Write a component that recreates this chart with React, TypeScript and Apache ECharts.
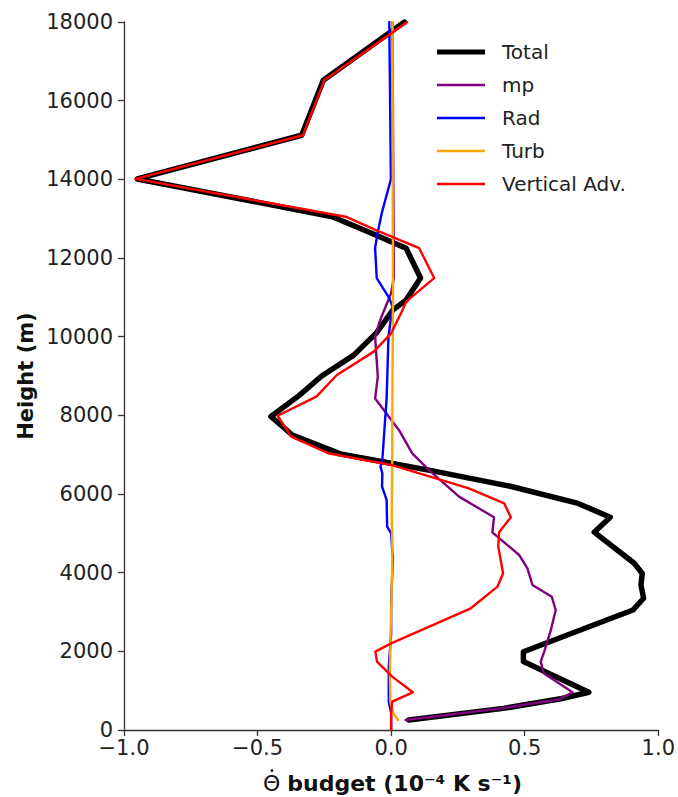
import React, { useEffect, useRef } from "react";
import * as echarts from "echarts";

// Heights (m) and theta-dot budget values (10^-4 K s^-1) per series
const totalH = [254, 550, 800, 960, 1740, 1990, 3050, 3350, 3690, 3980, 4240, 5030, 5410, 5760, 6190, 6570, 6780, 7020, 7500, 7970, 8500, 9000, 9530, 10090, 10680, 10930, 11490, 12250, 12630, 13050, 14010, 15120, 16520, 18000];
const totalV = [0.066, 0.42, 0.64, 0.74, 0.495, 0.495, 0.905, 0.945, 0.935, 0.94, 0.91, 0.76, 0.82, 0.70, 0.45, 0.17, 0.0, -0.19, -0.37, -0.45, -0.345, -0.26, -0.14, -0.056, 0.007, 0.056, 0.11, 0.056, -0.073, -0.22, -0.95, -0.335, -0.254, 0.05];

const mpH = [254, 550, 780, 958, 1441, 1738, 1992, 2543, 3051, 3390, 3687, 4110, 4450, 5026, 5407, 5933, 6611, 7035, 7628, 8430, 8983, 10000, 10425, 11110, 11500, 18000];
const mpV = [0.054, 0.41, 0.629, 0.679, 0.571, 0.56, 0.573, 0.598, 0.616, 0.601, 0.529, 0.51, 0.479, 0.379, 0.385, 0.254, 0.141, 0.079, 0.029, -0.06, -0.05, -0.06, -0.041, 0.0, 0.01, 0.005];

const radH = [0, 430, 720, 1610, 2448, 3305, 4407, 4577, 5000, 5170, 5848, 6187, 6530, 6695, 6865, 8430, 10000, 10765, 10980, 11490, 12250, 12630, 13145, 14000, 18000];
const radV = [0.0, 0.0, -0.009, -0.009, 0.0, 0.0, 0.007, 0.004, 0.0, -0.015, -0.017, -0.034, -0.033, -0.04, -0.033, -0.017, -0.01, 0.005, -0.007, -0.054, -0.06, -0.051, -0.035, -0.001, -0.007];

const turbH = [254, 420, 720, 1500, 3000, 4500, 5500, 7000, 9000, 11000, 13000, 15000, 18000];
const turbV = [0.026, 0.008, -0.003, -0.005, 0.0, 0.005, 0.002, 0.004, 0.005, 0.007, 0.006, 0.006, 0.005];

const advH = [0, 424, 720, 958, 1356, 1738, 1992, 2203, 3094, 3644, 3984, 4661, 5026, 5407, 5763, 6145, 6738, 7036, 7460, 7990, 8475, 9026, 9620, 10085, 10640, 10890, 11490, 12250, 12710, 13050, 14010, 15120, 16520, 18000];
const advV = [0.0, 0.0, 0.004, 0.081, 0.004, -0.053, -0.059, 0.0, 0.298, 0.398, 0.419, 0.401, 0.404, 0.448, 0.423, 0.291, 0.0, -0.236, -0.374, -0.425, -0.28, -0.203, -0.065, 0.0, 0.04, 0.056, 0.161, 0.105, -0.057, -0.17, -0.957, -0.33, -0.25, 0.06];

const seriesNames = ["Total", "mp", "Rad", "Turb", "Vertical Adv."];
const seriesColors = ["#000000", "#800080", "#0000ff", "#ffa500", "#ff0000"];
const seriesWidths = [5.5, 2.4, 2.4, 2.4, 2.4];

const xTicks = [-1.0, -0.5, 0.0, 0.5, 1.0];
const yTicks = [0, 2000, 4000, 6000, 8000, 10000, 12000, 14000, 16000, 18000];

const FONT = "DejaVu Sans";

export default function App() {
  const ref = useRef<HTMLDivElement>(null);
  useEffect(() => {
    if (!ref.current) return;
    const chart = echarts.init(ref.current, undefined, { renderer: "svg" });
    const all = [
      [totalV, totalH],
      [mpV, mpH],
      [radV, radH],
      [turbV, turbH],
      [advV, advH],
    ];
    const series = all.map(([v, h], i) => ({
      name: seriesNames[i],
      type: "line",
      data: v.map((x, k) => [x, h[k]]),
      showSymbol: false,
      symbol: "none",
      lineStyle: { color: seriesColors[i], width: seriesWidths[i], join: "round", cap: "round" },
      itemStyle: { color: seriesColors[i] },
      z: 2 + i,
    }));

    // Legend drawn as graphic elements (plain line handles like matplotlib)
    const legendItems: any[] = [];
    seriesNames.forEach((n, i) => {
      const cy = 52 + i * 33;
      legendItems.push({
        type: "line",
        shape: { x1: 437, y1: cy, x2: 485, y2: cy },
        style: { stroke: seriesColors[i], lineWidth: i === 0 ? 5 : 2.6 },
        z: 100,
      });
      legendItems.push({
        type: "text",
        x: 502,
        y: cy,
        style: {
          text: n,
          fontFamily: FONT,
          fontSize: 20,
          fill: "#222",
          textAlign: "left",
          textVerticalAlign: "middle",
        },
        z: 100,
      });
    });

    const axisColor = "#333333";
    chart.setOption({
      animation: false,
      backgroundColor: "#ffffff",
      textStyle: { fontFamily: FONT },
      grid: { left: 124, right: 19, top: 22, bottom: 67 },
      xAxis: {
        type: "value",
        min: xTicks[0],
        max: xTicks[xTicks.length - 1],
        interval: 0.5,
        splitLine: { show: false },
        axisLine: { show: true, onZero: false, lineStyle: { color: axisColor, width: 1.3 } },
        axisTick: { show: true, length: 6, inside: false, lineStyle: { color: axisColor, width: 1.3 } },
        axisLabel: {
          fontFamily: FONT,
          fontSize: 21,
          color: "#222",
          margin: 9,
          lineHeight: 17,
          formatter: (v: number) => (v < 0 ? "\u2212" : "") + Math.abs(v).toFixed(1),
        },
      },
      yAxis: {
        type: "value",
        min: yTicks[0],
        max: yTicks[yTicks.length - 1],
        interval: 2000,
        splitLine: { show: false },
        axisLine: { show: true, onZero: false, lineStyle: { color: axisColor, width: 1.3 } },
        axisTick: { show: true, length: 6, inside: false, lineStyle: { color: axisColor, width: 1.3 } },
        axisLabel: { fontFamily: FONT, fontSize: 21, color: "#222", margin: 11, lineHeight: 16, formatter: (v: number) => String(v) },
      },
      graphic: [
        {
          type: "text",
          x: 26,
          y: 376,
          rotation: Math.PI / 2,
          style: {
            text: "Height (m)",
            fontFamily: FONT,
            fontSize: 21,
            fontWeight: "bold",
            fill: "#111",
            textAlign: "center",
            textVerticalAlign: "middle",
          },
        },
        {
          type: "text",
          x: 263,
          y: 783,
          style: {
            text: "{n|\u0398} {b|budget (10\u207B\u2074 K s\u207B\u00B9)}",
            rich: {
              n: { fontFamily: FONT, fontSize: 22, fontWeight: "normal", fill: "#111" },
              b: { fontFamily: FONT, fontSize: 22, fontWeight: "bold", fill: "#111" },
            },
            fontFamily: FONT,
            fontSize: 22,
            textAlign: "left",
            textVerticalAlign: "middle",
          },
        },
        {
          type: "circle",
          shape: { cx: 272, cy: 770.5, r: 1.4 },
          style: { fill: "#111" },
        },
        ...legendItems,
      ],
      series,
    });
    return () => chart.dispose();
  }, []);
  return (
    <div
      ref={ref}
      style={{ position: "absolute", left: 0, top: 0, width: 678, height: 797 }}
    />
  );
}
